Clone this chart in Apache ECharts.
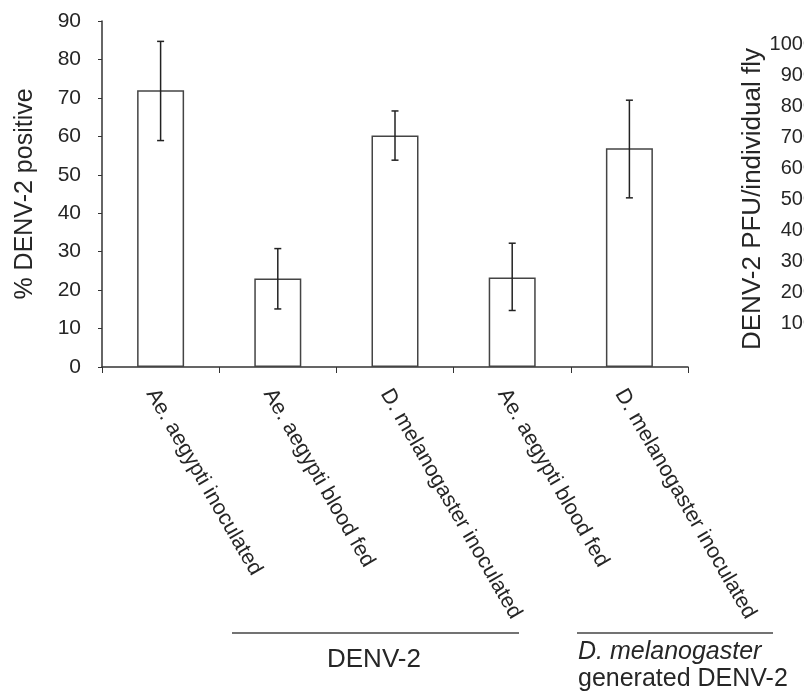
<!DOCTYPE html>
<html>
<head>
<meta charset="utf-8">
<script src="https://cdn.jsdelivr.net/npm/echarts@6/dist/echarts.min.js"></script>
<style>html,body{margin:0;padding:0;background:#fff;}#c{width:804px;height:700px;}</style>
</head>
<body>
<div id="c"></div>
<script>
// ---- data ----
const categories = [
  'Ae. aegypti inoculated',
  'Ae. aegypti blood fed',
  'D. melanogaster inoculated',
  'Ae. aegypti blood fed',
  'D. melanogaster inoculated'
];
const percentPositive = [72.0, 23.0, 60.2, 23.3, 56.9];
const errLow  = [58.9, 15.1, 53.8, 14.7, 44.0];
const errHigh = [84.7, 30.8, 66.6, 32.2, 69.4];
const yTicks = [0, 10, 20, 30, 40, 50, 60, 70, 80, 90];
const pfuTicks = [0, 100, 200, 300, 400, 500, 600, 700, 800, 900, 1000];
const groupLabels = ['DENV-2', 'D. melanogaster', 'generated DENV-2'];

const FONT = 'Liberation Sans, Arial, Helvetica, sans-serif';
const TXT = '#262626';
const LINE = '#333';

const chart = echarts.init(document.getElementById('c'), null, {renderer: 'canvas'});

const errData = categories.map((c, i) => [i, errLow[i], errHigh[i]]);

chart.setOption({
  backgroundColor: '#fff',
  animation: false,
  textStyle: {fontFamily: FONT, color: TXT},
  grid: [
    {left: 102, top: 21, right: 116, bottom: 333, containLabel: false, outerBoundsMode: 'none'},
    {left: 822, top: 44, width: 100, height: 310, containLabel: false, outerBoundsMode: 'none'}
  ],
  xAxis: [
    {
      type: 'category', gridIndex: 0, data: categories, boundaryGap: true,
      axisLine: {lineStyle: {color: LINE, width: 1.5}},
      axisTick: {show: true, length: 6, alignWithLabel: false, lineStyle: {color: LINE, width: 1}},
      axisLabel: {interval: 0, rotate: -60, margin: 18, verticalAlign: 'top',
                  fontSize: 21.5, color: TXT, fontFamily: FONT}
    },
    {type: 'category', gridIndex: 1, data: [''], show: false}
  ],
  yAxis: [
    {
      type: 'value', gridIndex: 0,
      min: yTicks[0], max: yTicks[yTicks.length - 1], interval: yTicks[1] - yTicks[0],
      name: '% DENV-2 positive', nameLocation: 'middle', nameGap: 64,
      nameTextStyle: {fontSize: 25, color: TXT, fontFamily: FONT},
      axisLine: {show: true, lineStyle: {color: LINE, width: 1.5}},
      axisTick: {show: true, length: 4, lineStyle: {color: LINE, width: 1}},
      axisLabel: {fontSize: 21, margin: 21, color: TXT, fontFamily: FONT},
      splitLine: {show: false}
    },
    {
      type: 'value', gridIndex: 1,
      min: pfuTicks[0], max: pfuTicks[pfuTicks.length - 1], interval: pfuTicks[1] - pfuTicks[0],
      name: 'DENV-2 PFU/individual fly', nameLocation: 'middle', nameGap: 56,
      nameTextStyle: {fontSize: 26, color: TXT, fontFamily: FONT},
      axisLine: {show: true, lineStyle: {color: LINE, width: 1.5}},
      axisTick: {show: true, length: 4},
      axisLabel: {fontSize: 20, margin: 8, color: TXT, fontFamily: FONT, showMinLabel: false,
                  formatter: function (v) { return String(v); }},
      splitLine: {show: false}
    }
  ],
  series: [
    {
      type: 'bar', xAxisIndex: 0, yAxisIndex: 0, data: percentPositive, barWidth: 47,
      itemStyle: {color: '#fff', borderColor: '#444', borderWidth: 1.5}
    },
    {
      type: 'custom', xAxisIndex: 0, yAxisIndex: 0, data: errData, z: 10,
      renderItem: function (params, api) {
        const x = api.value(0);
        const lo = api.coord([x, api.value(1)]);
        const hi = api.coord([x, api.value(2)]);
        const cw = 3.5;
        const st = {stroke: '#222', lineWidth: 1.5};
        return {
          type: 'group',
          children: [
            {type: 'line', shape: {x1: hi[0], y1: hi[1], x2: lo[0], y2: lo[1]}, style: st},
            {type: 'line', shape: {x1: hi[0] - cw, y1: hi[1], x2: hi[0] + cw, y2: hi[1]}, style: st},
            {type: 'line', shape: {x1: lo[0] - cw, y1: lo[1], x2: lo[0] + cw, y2: lo[1]}, style: st}
          ]
        };
      }
    }
  ],
  graphic: [
    {type: 'line', shape: {x1: 232, y1: 633, x2: 519, y2: 633}, style: {stroke: '#444', lineWidth: 1.5}},
    {type: 'line', shape: {x1: 577, y1: 633, x2: 773, y2: 633}, style: {stroke: '#444', lineWidth: 1.5}},
    {type: 'text', left: 327, top: 647, style: {text: groupLabels[0], font: '26px ' + FONT, fill: TXT}},
    {type: 'text', left: 578, top: 640, style: {text: groupLabels[1], font: 'italic 25px ' + FONT, fill: TXT}},
    {type: 'text', left: 578, top: 667, style: {text: groupLabels[2], font: '25px ' + FONT, fill: TXT}}
  ]
});
</script>
</body>
</html>
